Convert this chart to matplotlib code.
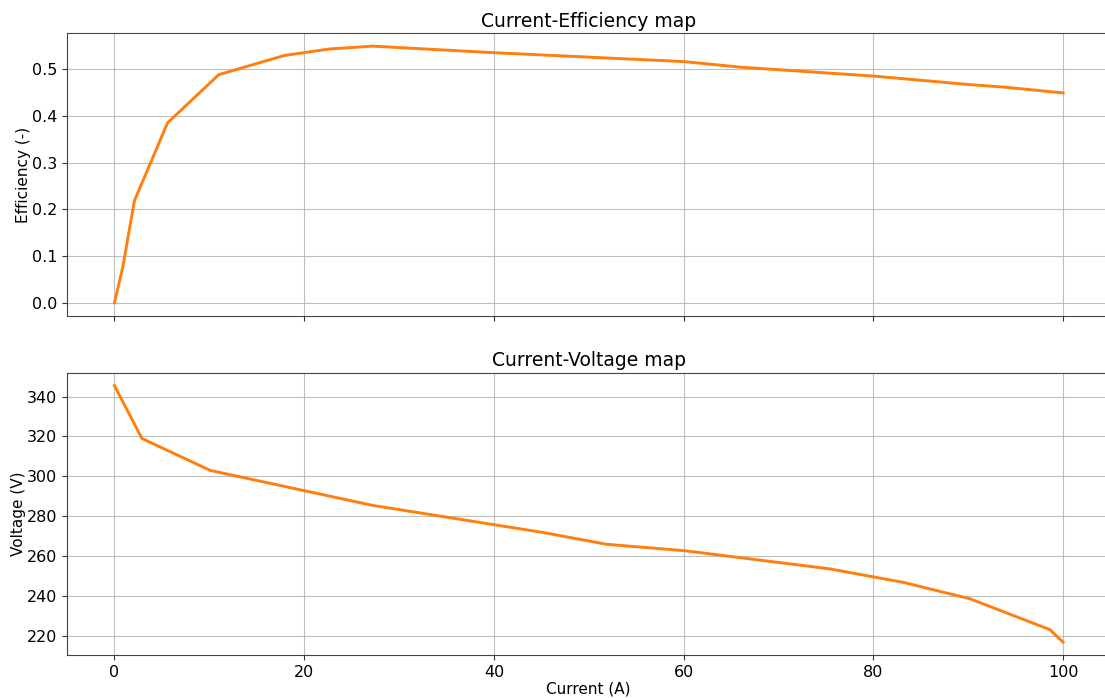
import matplotlib
matplotlib.use("Agg")
import matplotlib.pyplot as plt

# Efficiency vs current
eff_current = [0, 0.9, 2.1, 5.6, 11.0, 17.9, 22.7, 27.2, 40, 60, 66, 80, 90, 94, 100]
eff_values = [0, 0.078, 0.218, 0.385, 0.488, 0.529, 0.543, 0.549, 0.535, 0.516,
              0.504, 0.485, 0.467, 0.461, 0.449]

# Voltage vs current
volt_current = [0, 2.9, 10.1, 27.2, 45.2, 51.9, 60.1, 75.4, 83.2, 90.2, 98.6, 100]
volt_values = [345.5, 319.0, 303.0, 285.5, 271.9, 266.0, 262.8, 253.7, 246.9,
               238.7, 223.3, 217.0]

W, H = 1105, 698
fig = plt.figure(figsize=(W / 100, H / 100), dpi=100)

left, right = 67 / W, 1110.5 / W
ax1 = fig.add_axes([left, 1 - 315.7 / H, right - left, (315.7 - 33.3) / H])
ax2 = fig.add_axes([left, 1 - 655 / H, right - left, (655 - 372.7) / H], sharex=ax1)

line_kw = dict(color="#ff7f0e", linewidth=2.1)
ax1.plot(eff_current, eff_values, **line_kw)
ax2.plot(volt_current, volt_values, **line_kw)

ax1.set_title("Current-Efficiency map", fontsize=13.5, pad=4.5)
ax1.set_ylabel("Efficiency (-)", fontsize=11, labelpad=0.8)
ax2.set_title("Current-Voltage map", fontsize=13.5, pad=4.5)
ax2.set_ylabel("Voltage (V)", fontsize=11, labelpad=0.8)
ax2.set_xlabel("Current (A)", fontsize=11, labelpad=1.5)

ax1.set_yticks([0.0, 0.1, 0.2, 0.3, 0.4, 0.5])
ax2.set_yticks([220, 240, 260, 280, 300, 320, 340])
ax2.set_xticks([0, 20, 40, 60, 80, 100])

for ax in (ax1, ax2):
    ax.grid(True, color="#b0b0b0", linewidth=0.8, alpha=0.8)
    ax.tick_params(labelsize=11.5, color="#333333")
    for s in ax.spines.values():
        s.set_color("#444444")
plt.setp(ax1.get_xticklabels(), visible=False)

fig.savefig("out.png", dpi=100)
